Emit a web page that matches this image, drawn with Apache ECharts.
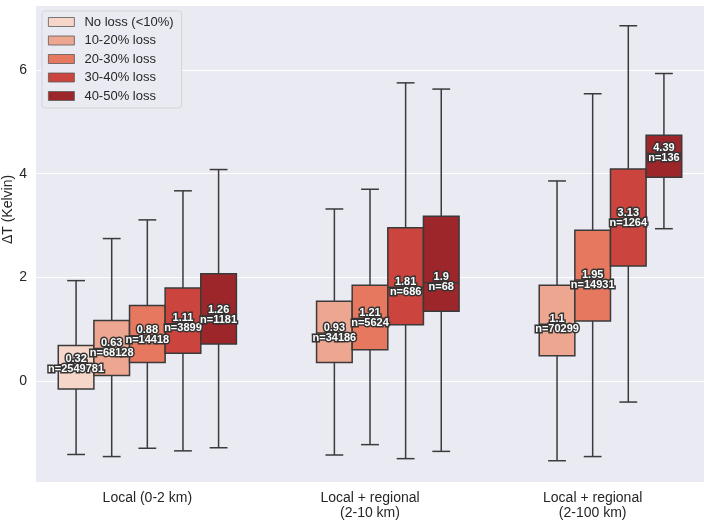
<!DOCTYPE html>
<html>
<head>
<meta charset="utf-8">
<script src="https://cdn.jsdelivr.net/npm/echarts@6/dist/echarts.min.js"></script>
<style>
  html, body { margin: 0; padding: 0; background: #fff; }
  #chart { width: 708px; height: 520px; }
</style>
</head>
<body>
<div id="chart"></div>
<script>
// categories and hue levels
const categories = ['Local (0-2 km)', 'Local + regional\n(2-10 km)', 'Local + regional\n(2-100 km)'];
const hues = ['No loss (<10%)', '10-20% loss', '20-30% loss', '30-40% loss', '40-50% loss'];

// [lower whisker, q1, median, q3, upper whisker] per category (null = no data)
const noLoss = [[-1.41, -0.15, 0.32, 0.69, 1.94], null, null];
const loss10 = [[-1.45, 0.11, 0.63, 1.17, 2.75], [-1.42, 0.36, 0.93, 1.54, 3.32], [-1.53, 0.49, 1.1, 1.85, 3.86]];
const loss20 = [[-1.29, 0.36, 0.88, 1.46, 3.11], [-1.22, 0.61, 1.21, 1.85, 3.70], [-1.45, 1.16, 1.95, 2.91, 5.54]];
const loss30 = [[-1.34, 0.54, 1.11, 1.80, 3.67], [-1.49, 1.09, 1.81, 2.96, 5.75], [-0.40, 2.22, 3.13, 4.09, 6.85]];
const loss40 = [[-1.28, 0.72, 1.26, 2.07, 4.08], [-1.35, 1.35, 1.9, 3.18, 5.63], [2.94, 3.93, 4.39, 4.74, 5.93]];

// sample counts
const nNoLoss = [2549781, null, null];
const nLoss10 = [68128, 34186, 70299];
const nLoss20 = [14418, 5624, 14931];
const nLoss30 = [3899, 686, 1264];
const nLoss40 = [1181, 68, 136];

const boxes = [noLoss, loss10, loss20, loss30, loss40];
const counts = [nNoLoss, nLoss10, nLoss20, nLoss30, nLoss40];
const colors = ['#f6d6c9', '#eda68f', '#e5785f', '#cc443e', '#9d262b'];
const edge = '#3a3a3a';
const font = '"Liberation Sans", Arial, sans-serif';

var chart = echarts.init(document.getElementById('chart'));

function makeRender(hueIdx) {
  return function (params, api) {
    const cat = api.value(0);
    const center = api.coord([cat, 0])[0];
    const band = api.size([1, 0])[0];
    const w = band * 0.8 / 5;
    const x = center + (hueIdx - 2) * w;
    const y = [1, 2, 3, 4, 5].map(i => api.coord([cat, api.value(i)])[1]);
    const line = { stroke: edge, lineWidth: 1.5 };
    const cap = w / 4;
    const txt = { fill: '#fff', stroke: '#333', lineWidth: 3, font: 'bold 11px ' + font, align: 'center' };
    return {
      type: 'group',
      children: [
        { type: 'line', shape: { x1: x, y1: y[0], x2: x, y2: y[1] }, style: line },
        { type: 'line', shape: { x1: x, y1: y[3], x2: x, y2: y[4] }, style: line },
        { type: 'line', shape: { x1: x - cap, y1: y[0], x2: x + cap, y2: y[0] }, style: line },
        { type: 'line', shape: { x1: x - cap, y1: y[4], x2: x + cap, y2: y[4] }, style: line },
        { type: 'rect', shape: { x: x - w / 2, y: y[3], width: w, height: y[1] - y[3] },
          style: { fill: api.visual('color'), stroke: edge, lineWidth: 1.5 } },
        { type: 'line', shape: { x1: x - w / 2, y1: y[2], x2: x + w / 2, y2: y[2] }, style: line },
        { type: 'text', z2: 100, x: x, y: y[2],
          style: Object.assign({ text: String(api.value(3)), verticalAlign: 'bottom' }, txt) },
        { type: 'text', z2: 100, x: x, y: y[2] - 1,
          style: Object.assign({ text: 'n=' + api.value(6), verticalAlign: 'top' }, txt) }
      ]
    };
  };
}

const series = hues.map(function (name, h) {
  const data = [];
  boxes[h].forEach(function (b, c) {
    if (b) data.push([c].concat(b).concat([counts[h][c]]));
  });
  return {
    name: name,
    type: 'custom',
    renderItem: makeRender(h),
    itemStyle: { color: colors[h] },
    encode: { x: 0, y: [1, 2, 3, 4, 5] },
    data: data
  };
});

let option = {
  backgroundColor: '#fff',
  animation: false,
  grid: {
    left: 36, right: 4, top: 5, bottom: 38,
    containLabel: false,
    outerBoundsMode: 'none',
    show: true, backgroundColor: '#eaeaf2', borderWidth: 0
  },
  legend: {
    orient: 'vertical',
    left: 42,
    top: 11,
    padding: [4, 8, 5, 6],
    itemGap: 4.5,
    itemWidth: 26,
    itemHeight: 9,
    icon: 'rect',
    backgroundColor: '#eaeaf2',
    borderColor: '#d3d3da',
    borderWidth: 1,
    borderRadius: 3,
    textStyle: { fontFamily: font, fontSize: 13, color: '#262626', lineHeight: 14, padding: [0, 0, 0, 5] },
    data: hues.map((h, i) => ({ name: h, itemStyle: { color: colors[i], borderColor: '#5a5a5a', borderWidth: 0.8 } }))
  },
  xAxis: {
    type: 'category',
    data: categories,
    axisLine: { show: false },
    axisTick: { show: false },
    splitLine: { show: false },
    axisLabel: { fontFamily: font, fontSize: 14, color: '#262626', margin: 9, lineHeight: 15 }
  },
  yAxis: {
    type: 'value',
    min: -1.94,
    max: 7.25,
    splitNumber: 5,
    name: 'ΔT (Kelvin)',
    nameLocation: 'middle',
    nameGap: 21,
    nameMoveOverlap: false,
    nameTextStyle: { fontFamily: font, fontSize: 14, color: '#262626', padding: [0, 0, 0, 68] },
    axisLine: { show: false },
    axisTick: { show: false },
    axisLabel: { fontFamily: font, fontSize: 14, color: '#262626', margin: 9, showMinLabel: false, showMaxLabel: false },
    splitLine: { lineStyle: { color: '#ffffff', width: 1.2 } }
  },
  series: series
};

option && chart.setOption(option);
</script>
</body>
</html>
